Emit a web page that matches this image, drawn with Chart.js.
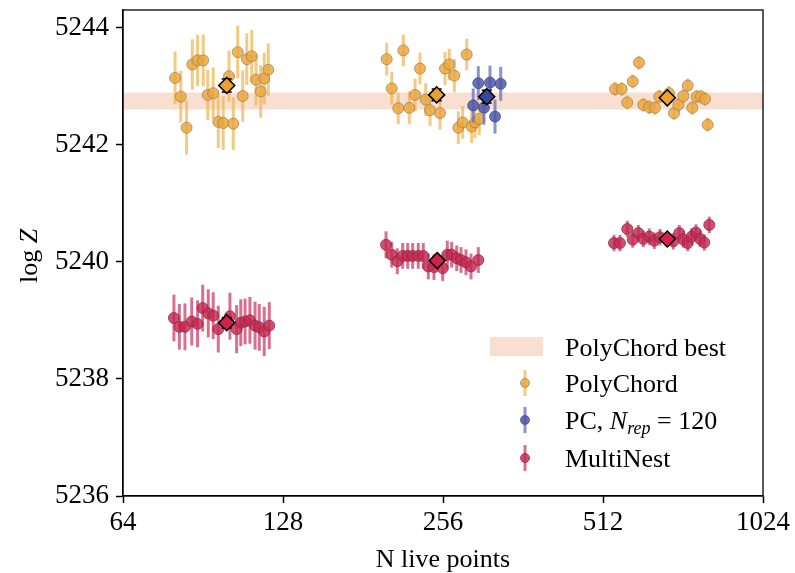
<!DOCTYPE html>
<html><head><meta charset="utf-8">
<script src="https://cdn.jsdelivr.net/npm/chart.js@4.4.1/dist/chart.umd.min.js"></script>
<style>html,body{margin:0;padding:0;background:#fff;}#wrap{width:795px;height:573px;}</style>
</head><body><div id="wrap"><canvas id="c" width="795" height="573"></canvas></div>
<script>
// ---- data ----
const xTicks = [64, 128, 256, 512, 1024];
const yTicks = [5236, 5238, 5240, 5242, 5244];
const bestBand = [5242.60, 5242.89];

const polyN = [80.2,82.2,84.3,86.4,88.4,90.6,92.4,94.6,96.7,98.8,101.3,103.2,105.2,107.5,109.4,111.8,113.9,116.2,118.0,120.1,
  200.6,205.0,210.9,215.6,221.2,226.8,231.7,237.5,242.0,252.7,258.2,263.1,268.9,273.6,278.8,283.7,289.8,294.1,299.6,
  539.3,555.2,568.8,582.4,598.4,609.7,625.6,641.3,653.4,681.5,696.4,709.5,725.1,739.0,753.9,768.6,782.8,796.6,805.8];
const polyZ = [5243.14,5242.82,5242.29,5243.37,5243.44,5243.44,5242.85,5242.88,5242.39,5242.37,5243.17,5242.36,5243.58,5242.83,5243.46,5243.51,5243.11,5242.91,5243.13,5243.28,
  5243.46,5242.96,5242.62,5243.61,5242.63,5242.85,5243.30,5242.77,5242.59,5242.54,5243.30,5243.37,5243.18,5242.29,5242.38,5243.54,5242.31,5242.38,5242.44,
  5242.95,5242.95,5242.72,5243.08,5243.40,5242.68,5242.64,5242.63,5242.82,5242.88,5242.54,5242.68,5242.83,5243.01,5242.63,5242.82,5242.82,5242.78,5242.34];
const polyErr = [0.45,0.44,0.46,0.43,0.44,0.44,0.43,0.44,0.45,0.46,0.44,0.45,0.45,0.44,0.44,0.45,0.44,0.45,0.44,0.45,
  0.28,0.28,0.27,0.27,0.28,0.28,0.27,0.28,0.27,0.28,0.28,0.27,0.28,0.28,0.28,0.27,0.28,0.27,0.28,
  0.12,0.12,0.12,0.12,0.12,0.12,0.12,0.12,0.12,0.12,0.12,0.12,0.12,0.12,0.12,0.12,0.12,0.12,0.12];

const pcRepN = [291.8,298.3,305.7,313.8,320.7,328.7];
const pcRepZ = [5242.67,5243.05,5242.63,5243.06,5242.48,5243.04];
const pcRepErr = [0.29,0.29,0.29,0.29,0.29,0.29];

const mnN = [79.8,81.7,83.7,86.2,88.4,90.4,92.6,94.6,96.7,101.7,104.7,106.6,108.6,110.9,113.4,115.5,118.0,120.6,
  200,205,210,215,219.7,224.5,230,235,240.2,246.2,255.7,260.8,265.8,271.7,276.8,282.8,289,298.3,
  537,551,568.8,582.4,596.7,609.7,625.6,639.4,655.3,694.2,712.5,725.1,739,751.7,765.9,779.5,794.1,811.4];
const mnZ = [5239.04,5238.89,5238.89,5238.98,5238.94,5239.21,5239.12,5239.08,5238.85,5239.07,5238.85,5238.96,5238.98,5239.00,5238.91,5238.88,5238.81,5238.91,
  5240.29,5240.12,5240.01,5240.10,5240.10,5240.10,5240.10,5240.10,5239.92,5239.91,5239.89,5240.12,5240.12,5240.06,5240.03,5239.99,5239.92,5240.03,
  5240.32,5240.32,5240.56,5240.38,5240.49,5240.39,5240.43,5240.36,5240.42,5240.35,5240.49,5240.38,5240.32,5240.43,5240.50,5240.39,5240.33,5240.63];
const mnErr = [0.40,0.39,0.40,0.41,0.40,0.40,0.41,0.40,0.40,0.40,0.41,0.40,0.39,0.40,0.41,0.40,0.42,0.40,
  0.23,0.22,0.22,0.22,0.22,0.22,0.22,0.22,0.22,0.22,0.22,0.24,0.22,0.22,0.22,0.22,0.22,0.22,
  0.14,0.14,0.14,0.14,0.14,0.14,0.14,0.14,0.14,0.14,0.14,0.14,0.14,0.14,0.14,0.14,0.14,0.14];

const polyMeanN = [100.3, 249.1, 676.5];
const polyMeanZ = [5243.01, 5242.85, 5242.80];
const polyMeanErr = [0.11, 0.10, 0.03];
const pcRepMeanN = [309.4];
const pcRepMeanZ = [5242.82];
const pcRepMeanErr = [0.11];
const mnMeanN = [100.3, 249.7, 676.5];
const mnMeanZ = [5238.96, 5240.02, 5240.39];
const mnMeanErr = [0.09, 0.05, 0.03];

// ---- styles ----
const serif = '"Liberation Serif", "Times New Roman", serif';
const bandColor = 'rgba(240,175,135,0.40)';
const col = {
  poly: {fill:'rgba(236,168,62,0.85)', edge:'rgba(150,125,95,0.7)', bar:'rgba(240,180,80,0.72)', mean:'#EBA032'},
  rep:  {fill:'rgba(78,88,170,0.85)', edge:'rgba(70,75,120,0.75)', bar:'rgba(105,115,190,0.78)', mean:'#3A469E'},
  mn:   {fill:'rgba(198,42,82,0.82)', edge:'rgba(140,40,70,0.75)', bar:'rgba(205,70,110,0.78)', mean:'#D5204C'}
};
const pts = (xs, ys) => xs.map((x, i) => ({x, y: ys[i]}));

function runSet(label, xs, ys, es, c, order) {
  return {label, data: pts(xs, ys), errs: es, barColor: c.bar, barWidth: 3, cap: 0,
    pointRadius: 5.5, pointHoverRadius: 5.5, backgroundColor: c.fill, borderColor: c.edge, borderWidth: 1, order};
}
function meanSet(label, xs, ys, es, c, order) {
  return {label, data: pts(xs, ys), errs: es, barColor: '#000', barWidth: 1.5, cap: 5,
    pointStyle: 'rectRot', pointRadius: 8, pointHoverRadius: 8, backgroundColor: c.mean, borderColor: '#000', borderWidth: 1.5, order};
}

function drawErr(chart, ds) {
  const {ctx, scales: {x, y}} = chart;
  ctx.save();
  ctx.strokeStyle = ds.barColor; ctx.lineWidth = ds.barWidth; ctx.lineCap = 'butt';
  ds.data.forEach((p, i) => {
    const px = x.getPixelForValue(p.x);
    const yt = y.getPixelForValue(p.y + ds.errs[i]);
    const yb = y.getPixelForValue(p.y - ds.errs[i]);
    ctx.beginPath();
    ctx.moveTo(px, yt); ctx.lineTo(px, yb);
    if (ds.cap) {
      ctx.moveTo(px - ds.cap, yt); ctx.lineTo(px + ds.cap, yt);
      ctx.moveTo(px - ds.cap, yb); ctx.lineTo(px + ds.cap, yb);
    }
    ctx.stroke();
  });
  ctx.restore();
}

const decor = {
  id: 'decor',
  beforeDatasetsDraw(chart) {
    const {ctx, chartArea: a, scales: {y}} = chart;
    const yTop = y.getPixelForValue(bestBand[1]), yBot = y.getPixelForValue(bestBand[0]);
    ctx.save(); ctx.fillStyle = bandColor;
    ctx.fillRect(a.left, yTop, a.right - a.left, yBot - yTop); ctx.restore();
  },
  beforeDatasetDraw(chart, args) {
    const ds = chart.data.datasets[args.index];
    if (ds.errs) drawErr(chart, ds);
  },
  afterDraw(chart) {
    const {ctx, chartArea: a} = chart;
    ctx.save();
    ctx.strokeStyle = '#000'; ctx.lineWidth = 1.3;
    ctx.strokeRect(a.left, a.top, a.right - a.left, a.bottom - a.top);
    ctx.fillStyle = '#000';
    ctx.font = '26px ' + serif; ctx.textAlign = 'center'; ctx.textBaseline = 'alphabetic';
    ctx.fillText('N live points', (a.left + a.right) / 2, 567);
    ctx.save();
    ctx.translate(37, 256); ctx.rotate(-Math.PI / 2);
    ctx.textAlign = 'left';
    ctx.font = '26px ' + serif; const w1 = ctx.measureText('log ').width;
    ctx.font = 'italic 26px ' + serif; const w2 = ctx.measureText('Z').width;
    const sx = -(w1 + w2) / 2;
    ctx.font = '26px ' + serif; ctx.fillText('log ', sx, 0);
    ctx.font = 'italic 26px ' + serif; ctx.fillText('Z', sx + w1, 0);
    ctx.restore();
    const mx = 525, tx = 565;
    ctx.fillStyle = bandColor; ctx.fillRect(490, 337, 53, 19);
    ctx.fillStyle = '#000'; ctx.font = '26px ' + serif; ctx.textAlign = 'left';
    ctx.fillText('PolyChord best', tx, 356);
    const marker = (cy, c) => {
      ctx.strokeStyle = c.bar; ctx.lineWidth = 3;
      ctx.beginPath(); ctx.moveTo(mx, cy - 13); ctx.lineTo(mx, cy + 13); ctx.stroke();
      ctx.fillStyle = c.fill; ctx.strokeStyle = c.edge; ctx.lineWidth = 1;
      ctx.beginPath(); ctx.arc(mx, cy, 4.5, 0, Math.PI * 2); ctx.fill(); ctx.stroke();
      ctx.fillStyle = '#000';
    };
    marker(383, col.poly); ctx.fillText('PolyChord', tx, 392);
    marker(420, col.rep);
    let cx = tx;
    ctx.font = '26px ' + serif; ctx.fillText('PC, ', cx, 429); cx += ctx.measureText('PC, ').width;
    ctx.font = 'italic 26px ' + serif; ctx.fillText('N', cx, 429); cx += ctx.measureText('N').width;
    ctx.font = 'italic 18px ' + serif; ctx.fillText('rep', cx, 434); cx += ctx.measureText('rep').width;
    ctx.font = '26px ' + serif; ctx.fillText(' = 120', cx, 429);
    marker(458, col.mn); ctx.fillText('MultiNest', tx, 467);
    ctx.restore();
  }
};

const datasets = [
  meanSet('PolyChord mean', polyMeanN, polyMeanZ, polyMeanErr, col.poly, 1),
  meanSet('PC N_rep=120 mean', pcRepMeanN, pcRepMeanZ, pcRepMeanErr, col.rep, 2),
  meanSet('MultiNest mean', mnMeanN, mnMeanZ, mnMeanErr, col.mn, 3),
  runSet('MultiNest', mnN, mnZ, mnErr, col.mn, 4),
  runSet('PC, N_rep = 120', pcRepN, pcRepZ, pcRepErr, col.rep, 5),
  runSet('PolyChord', polyN, polyZ, polyErr, col.poly, 6)
];

new Chart(document.getElementById('c'), {
  type: 'scatter',
  data: {datasets},
  options: {
    responsive: false, animation: false, devicePixelRatio: 1,
    layout: {padding: {top: 10, right: 32, left: 0, bottom: 0}},
    plugins: {legend: {display: false}, tooltip: {enabled: false}},
    scales: {
      x: {
        type: 'logarithmic', min: 64, max: 1024,
        afterBuildTicks: s => { s.ticks = xTicks.map(v => ({value: v})); },
        afterFit: s => { s.height = 77; s.paddingLeft = 0; s.paddingRight = 0; },
        ticks: {callback: v => String(v), font: {family: serif, size: 27}, color: '#000', padding: 4, maxRotation: 0, autoSkip: false},
        grid: {display: true, drawOnChartArea: false, drawTicks: true, tickLength: 7, tickWidth: 1.5, tickColor: '#000'},
        border: {display: true, color: '#000', width: 1.3}
      },
      y: {
        type: 'linear', min: 5236, max: 5244.3,
        afterBuildTicks: s => { s.ticks = yTicks.map(v => ({value: v})); },
        afterFit: s => { s.width = 123; s.paddingTop = 0; s.paddingBottom = 0; },
        ticks: {callback: v => String(v), font: {family: serif, size: 27}, color: '#000', padding: 7},
        grid: {display: true, drawOnChartArea: false, drawTicks: true, tickLength: 7, tickWidth: 1.5, tickColor: '#000'},
        border: {display: true, color: '#000', width: 1.3}
      }
    }
  },
  plugins: [decor]
});
</script></body></html>
